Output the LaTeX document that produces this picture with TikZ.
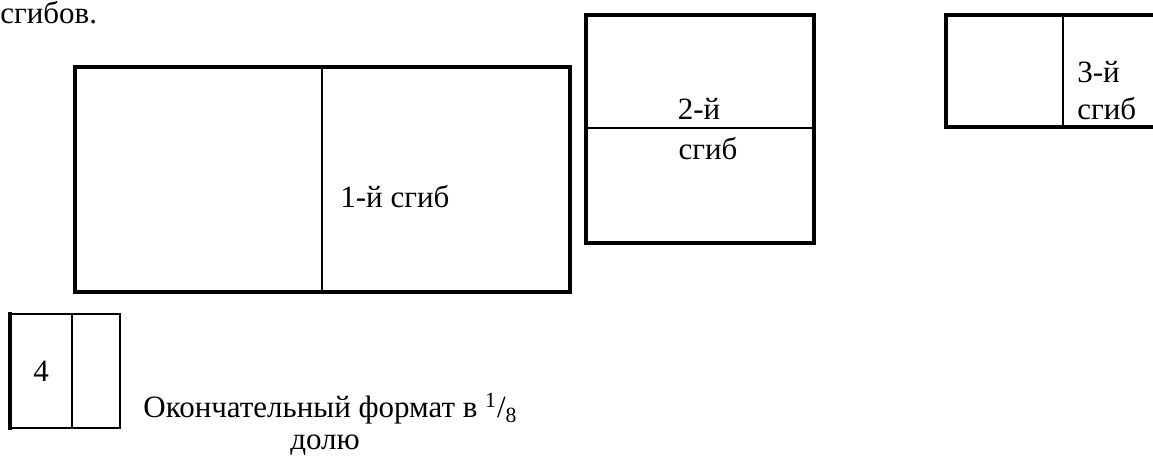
\documentclass[tikz,border=0pt]{standalone}
\usepackage{fontspec}
\setmainfont{Liberation Serif}
\tikzset{
  sheet/.style={line width=2pt, line cap=rect},
  fold/.style={line width=1pt},
  lbl/.style={inner sep=0pt, font=\fontsize{15.5}{18.6}\selectfont},
}
\begin{document}
\begin{tikzpicture}[x=0.5pt,y=-0.5pt]
	\useasboundingbox (0,0) rectangle (1153,459);
	\clip (0,0) rectangle (1153,459);
	%coordinates
	\coordinate (A1) at (75,67);
	\coordinate (A2) at (570,292);
	\coordinate (B1) at (586,15);
	\coordinate (B2) at (814,243);
	\coordinate (C1) at (946,15);
	\coordinate (C2) at (1190,127);
	\coordinate (D1) at (10,314);
	\coordinate (D2) at (120,428);
	%Folds
	\draw[fold] (322,67) -- (322,292);
	\draw[fold] (586,128) -- (814,128);
	\draw[fold] (1063,15) -- (1063,127);
	\draw[fold] (72,314) -- (72,428);
	%Sheets
	\draw[sheet] (A1) rectangle (A2);
	\draw[sheet] (B1) rectangle (B2);
	\draw[sheet] (C1) rectangle (C2);
	\draw[line width=1.3pt] (D1) rectangle (D2);
	\draw[sheet] (D1) -- (10,428);
	%Labels
	\node[lbl, anchor=base west] (top) at (0,24) {сгибов.};
	\node[lbl, anchor=base west] (f1) at (340,208) {1-й сгиб};
	\node[lbl, anchor=base] (f2a) at (699,120) {2-й};
	\node[lbl, anchor=base] (f2b) at (708,160) {сгиб};
	\node[lbl, anchor=base west] (f3a) at (1077,83) {3-й};
	\node[lbl, anchor=base west] (f3b) at (1077,120) {сгиб};
	\node[lbl, anchor=base west] (f4) at (33,382) {4};
	\node[lbl, anchor=base west] (cap) at (143,418) {Окончательный формат в \textsuperscript{1}/\textsubscript{8}};
	\node[lbl, anchor=base] (cap2) at (325,450) {долю};
\end{tikzpicture}
\end{document}
